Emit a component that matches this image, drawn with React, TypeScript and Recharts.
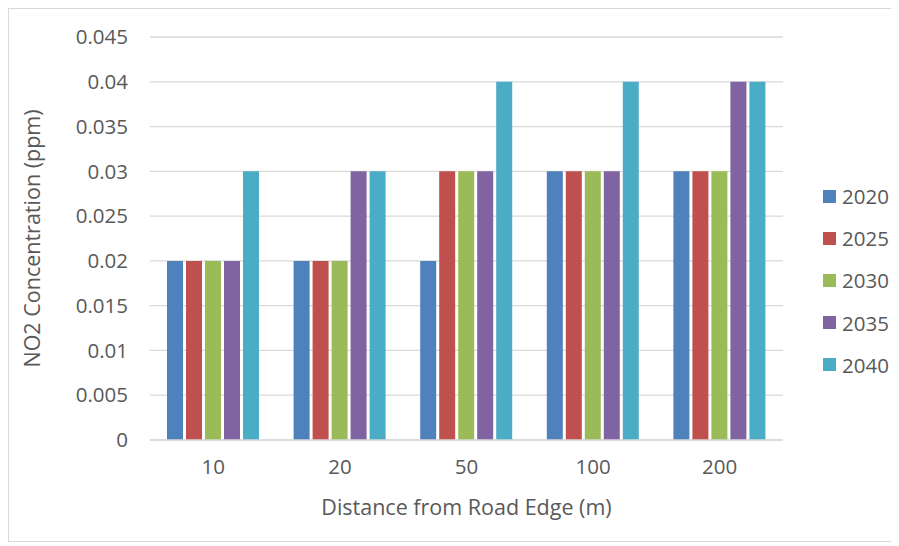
import { BarChart, Bar, XAxis, YAxis, CartesianGrid, Label } from 'recharts';

const distances = ['10', '20', '50', '100', '200'];
const years = ['2020', '2025', '2030', '2035', '2040'];
const colors = ['#4F81BD', '#C0504D', '#9BBB59', '#8064A2', '#4BACC6'];

const no2_2020 = [0.02, 0.02, 0.02, 0.03, 0.03];
const no2_2025 = [0.02, 0.02, 0.03, 0.03, 0.03];
const no2_2030 = [0.02, 0.02, 0.03, 0.03, 0.03];
const no2_2035 = [0.02, 0.03, 0.03, 0.03, 0.04];
const no2_2040 = [0.03, 0.03, 0.04, 0.04, 0.04];

const yTicks = [0, 0.005, 0.01, 0.015, 0.02, 0.025, 0.03, 0.035, 0.04, 0.045];

const series = [no2_2020, no2_2025, no2_2030, no2_2035, no2_2040];

const data = distances.map((d, i) => {
  const row: any = { distance: d };
  years.forEach((y, k) => { row[y] = series[k][i]; });
  return row;
});

const FONT = '"Open Sans", sans-serif';
const TXT = '#595959';
const TICK = 20.5;
const TITLE = 21.5;

function LegendBox() {
  return (
    <div style={{ position: 'absolute', left: 814, top: 166, fontFamily: FONT, fontSize: TICK, color: TXT }}>
      {years.map((y, k) => (
        <div key={y} style={{ display: 'flex', alignItems: 'center', height: 42.2 }}>
          <span style={{ width: 13, height: 13, background: colors[k], display: 'inline-block', marginRight: 6 }} />
          <span>{y}</span>
        </div>
      ))}
    </div>
  );
}

export default function App() {
  return (
    <div style={{ position: 'relative', width: 885, height: 532, border: '1px solid #d9d9d9', background: '#fff' }}>
      <BarChart
        width={885}
        height={532}
        data={data}
        margin={{ top: 28, right: 111, left: 0, bottom: 31 }}
        barCategoryGap={16}
        barGap={3}
      >
        <CartesianGrid vertical={false} stroke="#d9d9d9" strokeWidth={1.3} />
        <XAxis
          dataKey="distance"
          height={70}
          axisLine={{ stroke: '#d9d9d9', strokeWidth: 1.5 }}
          tickLine={false}
          tickSize={0}
          tickMargin={19}
          tick={{ fontSize: TICK, fill: TXT, fontFamily: FONT }}
        >
          <Label
            content={({ viewBox }: any) => (
              <text
                x={viewBox.x + viewBox.width / 2}
                y={506 - 9}
                textAnchor="middle"
                dominantBaseline="central"
                style={{ fontSize: TITLE, fill: TXT, fontFamily: FONT }}
              >
                Distance from Road Edge (m)
              </text>
            )}
          />
        </XAxis>
        <YAxis
          width={141}
          domain={[0, 0.045]}
          ticks={yTicks}
          interval={0}
          axisLine={false}
          tickLine={false}
          tickSize={0}
          tickMargin={22}
          tick={{ fontSize: TICK, fill: TXT, fontFamily: FONT }}
        >
          <Label
            content={({ viewBox }: any) => {
              const cx = 22;
              const cy = viewBox.y + viewBox.height / 2;
              return (
                <text
                  x={cx}
                  y={cy}
                  transform={`rotate(-90, ${cx}, ${cy})`}
                  textAnchor="middle"
                  dominantBaseline="central"
                  style={{ fontSize: TITLE, fill: TXT, fontFamily: FONT }}
                >
                  NO2 Concentration (ppm)
                </text>
              );
            }}
          />
        </YAxis>
        {years.map((y, k) => (
          <Bar key={y} dataKey={y} fill={colors[k]} barSize={16} isAnimationActive={false} />
        ))}
      </BarChart>
      <LegendBox />
    </div>
  );
}
